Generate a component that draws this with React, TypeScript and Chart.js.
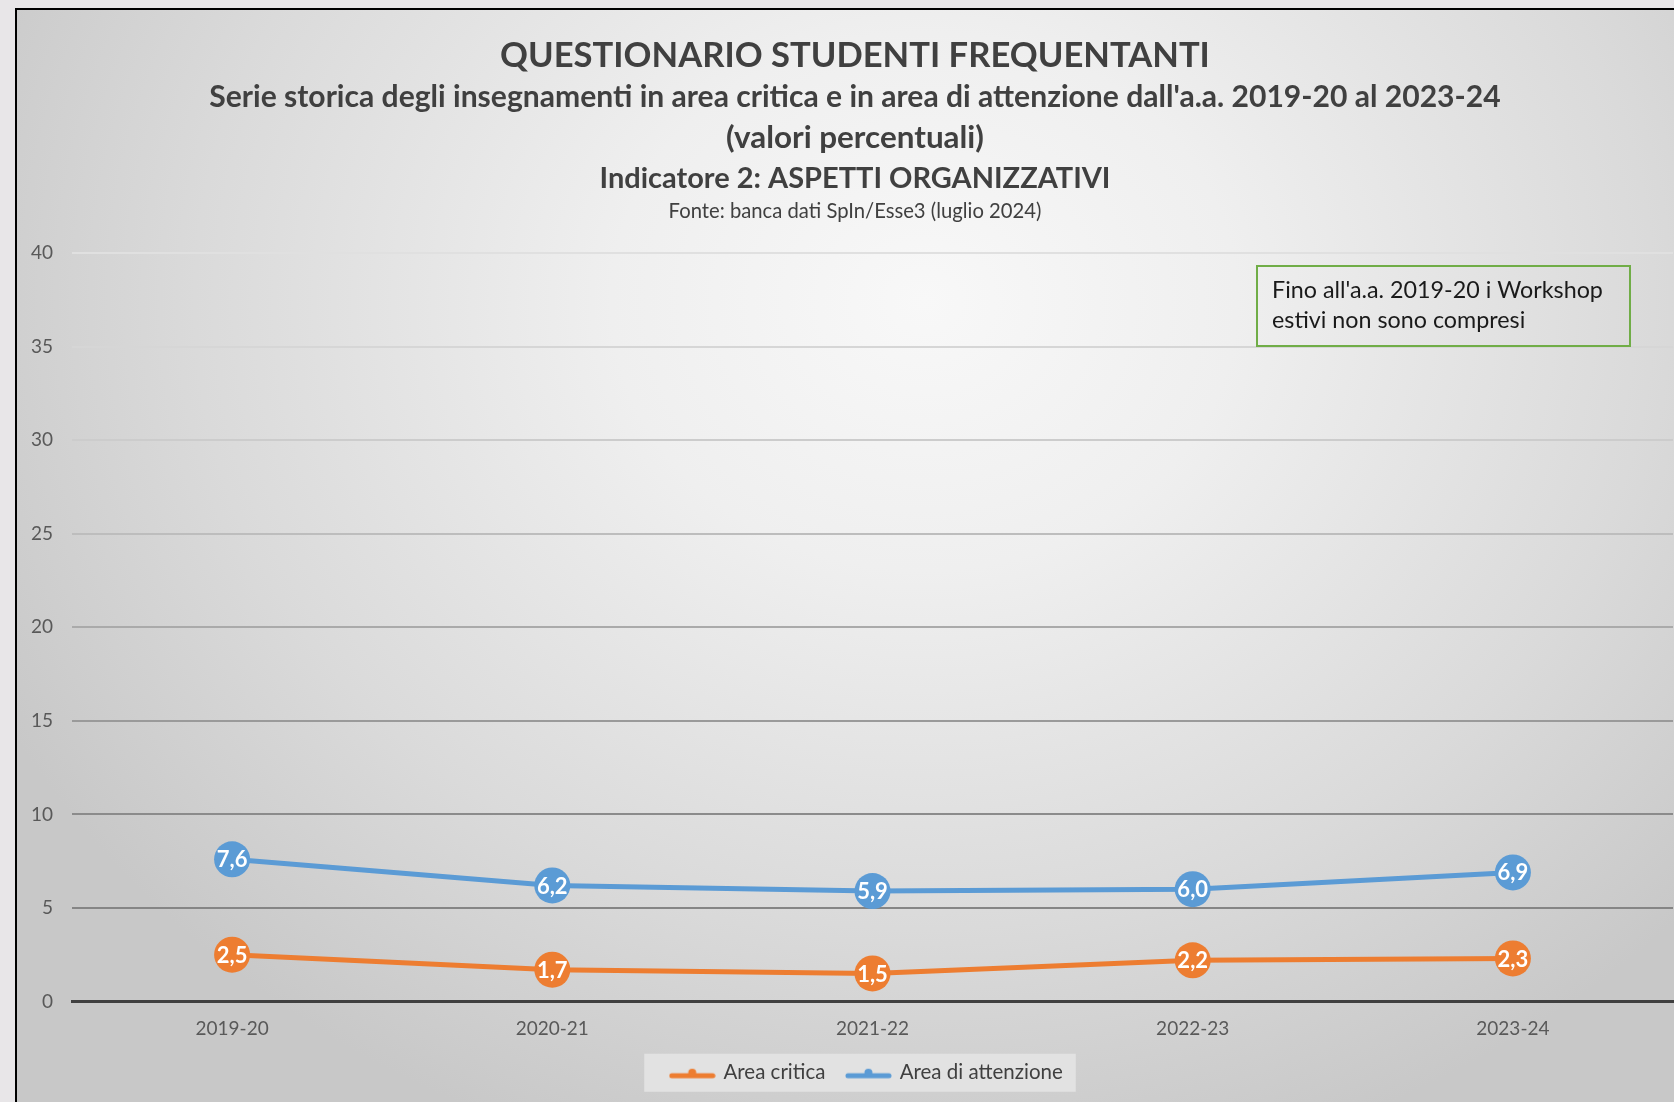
import React, { useEffect, useRef } from "react";
import { Chart, registerables } from "chart.js";

Chart.register(...registerables);

// ---------- data ----------
const categories = ["2019-20", "2020-21", "2021-22", "2022-23", "2023-24"];
const areaCritica = [2.5, 1.7, 1.5, 2.2, 2.3];
const areaAttenzione = [7.6, 6.2, 5.9, 6.0, 6.9];
const seriesNames = ["Area critica", "Area di attenzione"];
const seriesColors = ["#ED7D31", "#5B9BD5"];
const yMin = 0;
const yMax = 40;
const yStep = 5;

const titleLines = [
  "QUESTIONARIO STUDENTI FREQUENTANTI",
  "Serie storica degli insegnamenti in area critica e in area di attenzione dall'a.a. 2019-20 al 2023-24",
  "(valori percentuali)",
  "Indicatore 2: ASPETTI ORGANIZZATIVI",
  "Fonte: banca dati SpIn/Esse3 (luglio 2024)",
];
const noteLines = ["Fino all'a.a. 2019-20 i Workshop", "estivi non sono compresi"];

// ---------- style ----------
const FONT = "Lato, 'Open Sans', 'DejaVu Sans', sans-serif";
const CANVAS_W = 1680;
const CANVAS_H = 1092;

// title layout: [weight, targetWidth, centerY, color]
const titleStyles: [string, number, number, string][] = [
  ["bold", 710, 46, "#404040"],
  ["bold", 1292, 87, "#404040"],
  ["bold", 258, 128, "#404040"],
  ["bold", 511, 169, "#404040"],
  ["normal", 373, 201, "#404040"],
];
const TITLE_CX = 838;
const LEGEND_SHIFT = 22;

const gridColors: Record<number, string> = {
  0: "rgba(0,0,0,0)",
  5: "#858585",
  10: "#8b8b8b",
  15: "#9a9a9a",
  20: "#aaaaaa",
  25: "#bdbdbd",
  30: "#cccccc",
  35: "#d6d6d6",
  40: "#e0e0e0",
};

function fitSize(ctx: CanvasRenderingContext2D, text: string, weight: string, target: number) {
  ctx.font = `${weight} 100px ${FONT}`;
  const w = ctx.measureText(text).width;
  return (100 * target) / w;
}

function makeIcon(color: string) {
  const c = document.createElement("canvas");
  c.width = 47;
  c.height = 16;
  const g = c.getContext("2d")!;
  g.strokeStyle = color;
  g.fillStyle = color;
  g.lineWidth = 5;
  g.lineCap = "round";
  g.beginPath();
  g.moveTo(3, 11);
  g.lineTo(44, 11);
  g.stroke();
  g.beginPath();
  g.arc(23.5, 8, 4, 0, Math.PI * 2);
  g.fill();
  return c;
}

const decorPlugin = {
  id: "decor",
  afterLayout(chart: any) {
    const lg = chart.legend;
    if (lg) {
      lg.left += LEGEND_SHIFT;
      lg.right += LEGEND_SHIFT;
    }
  },
  beforeDraw(chart: any) {
    const ctx = chart.ctx as CanvasRenderingContext2D;
    const lg = chart.legend;
    if (lg && lg.legendHitBoxes && lg.legendHitBoxes.length) {
      const hb = lg.legendHitBoxes;
      const first = hb[0];
      const last = hb[hb.length - 1];
      const cy = first.top + first.height / 2;
      ctx.save();
      ctx.fillStyle = "#e2e2e2";
      ctx.fillRect(first.left - 27, cy - 19, last.left + last.width + 13 - (first.left - 27), 38);
      ctx.restore();
    }
  },
  afterDatasetsDraw(chart: any) {
    const ctx = chart.ctx as CanvasRenderingContext2D;
    ctx.save();
    ctx.fillStyle = "#ffffff";
    ctx.textAlign = "center";
    ctx.textBaseline = "middle";
    ctx.font = `bold 22px ${FONT}`;
    chart.data.datasets.forEach((ds: any, i: number) => {
      const meta = chart.getDatasetMeta(i);
      meta.data.forEach((pt: any, j: number) => {
        const v = ds.data[j] as number;
        ctx.fillText(v.toFixed(1).replace(".", ","), pt.x, pt.y + 1);
      });
    });
    ctx.restore();
  },
  afterDraw(chart: any) {
    const ctx = chart.ctx as CanvasRenderingContext2D;
    ctx.save();
    ctx.textAlign = "center";
    ctx.textBaseline = "middle";
    titleLines.forEach((t, i) => {
      const [weight, w, cy, color] = titleStyles[i];
      const size = fitSize(ctx, t, weight, w);
      ctx.font = `${weight} ${size}px ${FONT}`;
      ctx.fillStyle = color;
      ctx.fillText(t, TITLE_CX, cy);
    });
    // note box
    ctx.strokeStyle = "#70AD47";
    ctx.lineWidth = 2;
    ctx.strokeRect(1240, 256, 373, 80);
    const ns = fitSize(ctx, noteLines[0], "normal", 331);
    ctx.font = `normal ${ns}px ${FONT}`;
    ctx.fillStyle = "#1a1a1a";
    ctx.textAlign = "left";
    ctx.fillText(noteLines[0], 1255, 280);
    ctx.fillText(noteLines[1], 1255, 310);
    ctx.restore();
  },
};

export default function App() {
  const ref = useRef<HTMLCanvasElement | null>(null);

  useEffect(() => {
    if (!ref.current) return;
    const icons = seriesColors.map(makeIcon);
    const chart = new Chart(ref.current, {
      type: "line",
      data: {
        labels: categories,
        datasets: [
          {
            label: seriesNames[0],
            data: areaCritica,
            borderColor: seriesColors[0],
            backgroundColor: seriesColors[0],
            borderWidth: 5,
            pointRadius: 18,
            pointHoverRadius: 18,
            pointBorderWidth: 0,
            pointBackgroundColor: seriesColors[0],
            tension: 0,
          },
          {
            label: seriesNames[1],
            data: areaAttenzione,
            borderColor: seriesColors[1],
            backgroundColor: seriesColors[1],
            borderWidth: 5,
            pointRadius: 18,
            pointHoverRadius: 18,
            pointBorderWidth: 0,
            pointBackgroundColor: seriesColors[1],
            tension: 0,
          },
        ],
      },
      options: {
        responsive: false,
        animation: false,
        events: [],
        layout: { padding: { top: 243, right: 24, bottom: 9, left: 0 } },
        plugins: {
          title: { display: false },
          tooltip: { enabled: false },
          legend: {
            display: true,
            position: "bottom",
            labels: {
              usePointStyle: true,
              pointStyleWidth: 42,
              boxHeight: 20,
              padding: 22,
              color: "#404040",
              font: { family: FONT, size: 20.5 },
              generateLabels: (ch: any) =>
                ch.data.datasets.map((ds: any, i: number) => ({
                  text: ds.label,
                  fillStyle: seriesColors[i],
                  strokeStyle: seriesColors[i],
                  lineWidth: 0,
                  pointStyle: icons[i],
                  hidden: false,
                  datasetIndex: i,
                  fontColor: "#404040",
                })),
            },
          },
        },
        scales: {
          x: {
            offset: true,
            grid: { display: false, drawTicks: false },
            border: { display: true, color: "#404040", width: 3 },
            ticks: {
              color: "#595959",
              font: { family: FONT, size: 19 },
              padding: 16,
              maxRotation: 0,
            },
            afterFit: (s: any) => {
              s.height = 39;
            },
          },
          y: {
            min: yMin,
            max: yMax,
            ticks: {
              stepSize: yStep,
              color: "#595959",
              font: { family: FONT, size: 19 },
              padding: 19,
            },
            border: { display: false },
            grid: {
              drawTicks: false,
              lineWidth: 2,
              color: (c: any) => gridColors[c.tick ? c.tick.value : 0] || "#bbbbbb",
            },
            afterFit: (s: any) => {
              s.width = 55;
            },
          },
        },
      },
      plugins: [decorPlugin],
    });
    return () => chart.destroy();
  }, []);

  return (
    <div style={{ position: "fixed", inset: 0, background: "#e8e6e8", overflow: "hidden" }}>
      <div
        style={{
          position: "absolute",
          left: 15,
          top: 8,
          width: 1680,
          height: 1120,
          border: "2px solid #000",
          background:
            "radial-gradient(ellipse 62% 80% at 54% 26%, #f8f8f8 0%, #efefef 30%, #dadada 70%, #c8c8c8 100%)",
        }}
      >
        <canvas
          ref={ref}
          width={CANVAS_W}
          height={CANVAS_H}
          style={{ display: "block", width: CANVAS_W, height: CANVAS_H }}
        />
      </div>
    </div>
  );
}
